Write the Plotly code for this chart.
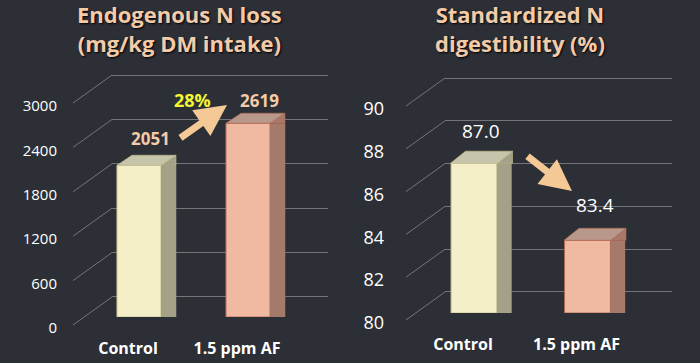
import plotly.graph_objects as go

# ---- data ----
categories = ["Control", "1.5 ppm AF"]
n_loss = [2051, 2619]
n_digest = [87.0, 83.4]
n_loss_ticks = [0, 600, 1200, 1800, 2400, 3000]
n_digest_ticks = [80, 82, 84, 86, 88, 90]
n_loss_labels = ["2051", "2619"]
n_digest_labels = ["87.0", "83.4"]
change_label = "28%"
title_left = "Endogenous N loss<br>(mg/kg DM intake)"
title_right = "Standardized N<br>digestibility (%)"

W, H = 700, 363
def px(x):
    return x / W
def py(y):
    return (H - y) / H

BG = "#2c2f36"
GRID = "rgba(205,205,205,0.45)"
front_colors = ["#f4efc8", "#f0b9a2"]
side_colors = ["#a3a188", "#a67a6b"]
cap_colors = ["#c6c4aa", "#b9988c"]
edge_colors = ["#c9c28c", "#b86a4e"]
PEACH = "#f3cba8"
FONT = "Open Sans"

fig = go.Figure()

# invisible traces so the back-wall grid subplots get drawn
for xa, ya in [("x", "y"), ("x2", "y2")]:
    fig.add_trace(go.Scatter(x=[None], y=[None], xaxis=xa, yaxis=ya,
                             showlegend=False, hoverinfo="skip"))

# bars (front faces + side faces) on axes x3/y3 and x4/y4
for xa, ya, vals, lo, sidew in [("x3", "y3", n_loss, 0, 0.14), ("x4", "y4", n_digest, 80, 0.13)]:
    heights = [v - lo for v in vals]
    fig.add_trace(go.Bar(
        x=categories, y=heights, base=[lo] * len(vals),
        xaxis=xa, yaxis=ya, width=0.404, offset=-0.202,
        marker=dict(color=front_colors, line=dict(color=edge_colors, width=1)),
        hoverinfo="skip", showlegend=False))
    fig.add_trace(go.Bar(
        x=categories, y=heights, base=[lo] * len(vals),
        xaxis=xa, yaxis=ya, width=sidew, offset=0.202,
        marker=dict(color=side_colors, line=dict(color=side_colors, width=0)),
        hoverinfo="skip", showlegend=False))

tickfont = dict(family=FONT, size=15, color="white")
tickfont_r = dict(family=FONT, size=18, color="white")
catfont = dict(family=FONT, size=16, color="white", weight="bold")

fig.update_layout(
    width=W, height=H,
    margin=dict(l=0, r=0, t=0, b=0, autoexpand=False),
    paper_bgcolor=BG, plot_bgcolor="rgba(0,0,0,0)",
    barmode="overlay",
    # grid axes (back wall) – ranges padded slightly so end gridlines are drawn
    xaxis=dict(domain=[px(112), px(328)], range=[0, 1], visible=False, anchor="y",
               automargin=False),
    yaxis=dict(domain=[py(299.2), py(72.8)], range=[-30, 3030], anchor="x",
               tickvals=n_loss_ticks, showgrid=True, gridcolor=GRID, gridwidth=1,
               zeroline=False, showline=False, ticks="", automargin=False,
               ticklabelshift=31, ticklabelstandoff=54, tickfont=tickfont),
    xaxis2=dict(domain=[px(445), px(672)], range=[0, 1], visible=False, anchor="y2",
                automargin=False),
    yaxis2=dict(domain=[py(294.1), py(75.9)], range=[79.9, 90.1], anchor="x2",
                tickvals=n_digest_ticks, showgrid=True, gridcolor=GRID, gridwidth=1,
                zeroline=False, showline=False, ticks="", automargin=False,
                ticklabelshift=31, ticklabelstandoff=60, tickfont=tickfont_r),
    # bar axes
    xaxis3=dict(domain=[px(84.5), px(302.5)], range=[-0.5, 1.5], anchor="y3",
                type="category", categoryorder="array", categoryarray=categories,
                showgrid=False, showline=False, zeroline=False, ticks="", automargin=False,
                ticklabelshift=-11, ticklabelstandoff=20, tickfont=catfont),
    yaxis3=dict(domain=[py(317), py(95)], range=[0, 3000], anchor="x3", visible=False,
                automargin=False),
    xaxis4=dict(domain=[px(417.25), px(644.25)], range=[-0.5, 1.5], anchor="y4",
                type="category", categoryorder="array", categoryarray=categories,
                showgrid=False, showline=False, zeroline=False, ticks="", automargin=False,
                ticklabelshift=-11, ticklabelstandoff=20, tickfont=catfont),
    yaxis4=dict(domain=[py(313), py(99)], range=[80, 90], anchor="x4", visible=False,
                automargin=False),
)

shapes = []
# diagonal connectors from tick labels to the back wall
for ticks, lo, hi, xdom in [(n_loss_ticks, 0, 3000, "x"), (n_digest_ticks, 80, 90, "x2")]:
    ydom = "y domain" if xdom == "x" else "y2 domain"
    xanchor = px(112) if xdom == "x" else px(445)
    span = (hi - lo) * 1.02
    for t in ticks:
        shapes.append(dict(type="line", xref="paper", yref=ydom,
                           xsizemode="pixel", xanchor=xanchor, x0=-39, x1=0,
                           ysizemode="pixel", yanchor=(t - lo + (hi - lo) * 0.01) / span,
                           y0=-28, y1=0, line=dict(color=GRID, width=1)))

# 3D top caps, anchored to each bar's value (offsets in pixels)
for xa, ya, vals, hw, dx, dy, sw in [("x3", "y3", n_loss, 22, 15, 10, 15),
                                      ("x4", "y4", n_digest, 23.5, 15, 12, 15)]:
    for i, (cat, v) in enumerate(zip(categories, vals)):
        cap = f"M {-hw},0 L {hw},0 L {hw+dx},{dy} L {-hw+dx},{dy} Z"
        tri = f"M {hw},0 L {hw+sw},{dy} L {hw+sw},0 Z"
        for path, col in [(tri, side_colors[i]), (cap, cap_colors[i])]:
            shapes.append(dict(type="path", xref=xa, yref=ya,
                               xsizemode="pixel", xanchor=i,
                               ysizemode="pixel", yanchor=v,
                               path=path, fillcolor=col,
                               line=dict(color=edge_colors[i], width=0.6)))
fig.update_layout(shapes=shapes)

ann = []
tfont = dict(family=FONT, size=22, color=PEACH, weight="bold", shadow="1px 1px 2px #000")
ann.append(dict(text=title_left, x=px(180), y=py(28), xref="paper", yref="paper",
                xanchor="center", yanchor="middle", showarrow=False, font=tfont, align="center"))
ann.append(dict(text=title_right, x=px(520), y=py(28), xref="paper", yref="paper",
                xanchor="center", yanchor="middle", showarrow=False, font=tfont, align="center"))
# value labels
for cat, v, lab, dy in zip(categories, n_loss, n_loss_labels, [27, 23]):
    ann.append(dict(text=lab, x=cat, y=v, xref="x3", yref="y3", showarrow=False,
                    xanchor="center", yanchor="middle", xshift=11, yshift=dy,
                    font=dict(family=FONT, size=17, color=PEACH, weight="bold")))
for cat, v, lab, dy in zip(categories, n_digest, n_digest_labels, [32, 35]):
    ann.append(dict(text=lab, x=cat, y=v, xref="x4", yref="y4", showarrow=False,
                    xanchor="center", yanchor="middle", xshift=7, yshift=dy,
                    font=dict(family=FONT, size=19, color="white")))
# arrows, then the change label
ann.append(dict(text="", x=px(227), y=py(105), xref="paper", yref="paper",
                showarrow=True, ax=-48, ay=34, arrowhead=2, arrowsize=0.9, arrowwidth=7,
                arrowcolor="#f4c996"))
ann.append(dict(text="", x=px(572), y=py(191), xref="paper", yref="paper",
                showarrow=True, ax=-46, ay=-36, arrowhead=2, arrowsize=0.9, arrowwidth=7,
                arrowcolor="#f4c996"))
ann.append(dict(text=change_label, x=px(192), y=py(100), xref="paper", yref="paper",
                xanchor="center", yanchor="middle", showarrow=False,
                font=dict(family=FONT, size=18, color="#f5f532", weight="bold")))
fig.update_layout(annotations=ann)

fig.write_html("out.html", config={"displayModeBar": False},
               post_script="document.body.style.margin='0';document.body.style.background='#2c2f36';")
